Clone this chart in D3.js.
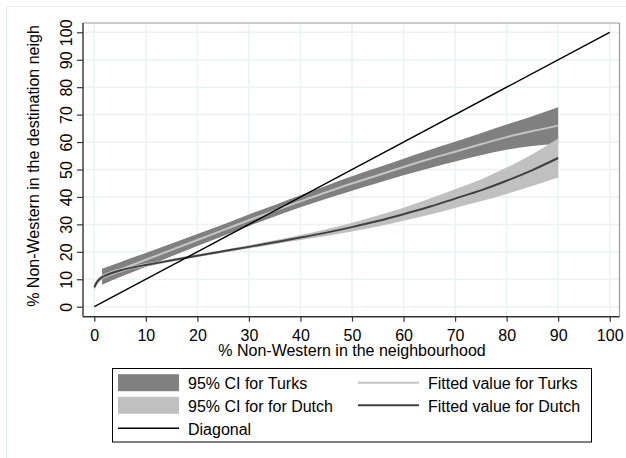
<!DOCTYPE html>
<html>
<head>
<meta charset="utf-8">
<script src="https://cdn.jsdelivr.net/npm/d3@7"></script>
<style>
  html, body { margin: 0; padding: 0; background: #ffffff; }
  svg { display: block; font-family: "Liberation Sans", Arial, sans-serif; }
</style>
</head>
<body>
<svg id="chart" width="626" height="458"></svg>
<script>
// ---------------- data ----------------
const xTicks = [0, 10, 20, 30, 40, 50, 60, 70, 80, 90, 100];
const yTicks = [0, 10, 20, 30, 40, 50, 60, 70, 80, 90, 100];

const turksX   = [1.5, 5, 10, 15, 20, 25, 30, 35, 40, 45, 50, 55, 60, 65, 70, 75, 80, 85, 90];
const turksFit = [10.9, 13.5, 17.1, 20.7, 24.3, 27.9, 31.5, 35.0, 38.4, 41.7, 44.9, 47.9, 50.9, 53.8, 56.5, 59.2, 61.8, 64.0, 66.0];
const turksLo  = [8.0, 10.8, 14.6, 18.4, 22.1, 25.8, 29.4, 32.9, 36.2, 39.3, 42.3, 45.1, 47.9, 50.5, 52.9, 55.2, 57.2, 58.6, 59.3];
const turksHi  = [13.8, 16.2, 19.6, 23.0, 26.5, 30.0, 33.6, 37.1, 40.6, 44.1, 47.5, 50.7, 53.9, 57.1, 60.1, 63.2, 66.4, 69.4, 72.7];

const dutchX   = [0, 0.3, 0.7, 1, 1.5, 2, 3, 5, 7.5, 10, 15, 20, 25, 30, 35, 40, 45, 50, 55, 60, 65, 70, 75, 80, 85, 90];
const dutchFit = [7.0, 8.3, 9.4, 10.0, 10.7, 11.2, 12.0, 13.2, 14.3, 15.2, 16.9, 18.6, 20.2, 21.8, 23.5, 25.2, 27.0, 29.0, 31.2, 33.7, 36.4, 39.4, 42.4, 45.9, 49.8, 54.2];
const dutchLo  = [5.8, 7.2, 8.4, 9.1, 9.8, 10.4, 11.2, 12.5, 13.7, 14.6, 16.4, 18.1, 19.7, 21.2, 22.8, 24.3, 25.8, 27.4, 29.2, 31.3, 33.5, 36.0, 38.4, 41.1, 44.0, 47.1];
const dutchHi  = [8.2, 9.4, 10.4, 10.9, 11.6, 12.0, 12.8, 13.9, 14.9, 15.8, 17.4, 19.1, 20.7, 22.4, 24.2, 26.1, 28.2, 30.6, 33.2, 36.1, 39.3, 42.8, 46.4, 50.7, 55.6, 61.3];

const diagX = [0, 100];
const diagY = [0, 100];

const legendItems = [
  { label: "95% CI for Turks",       kind: "area", color: "#808080", col: 0, row: 0 },
  { label: "95% CI for for Dutch",   kind: "area", color: "#c0c0c0", col: 0, row: 1 },
  { label: "Diagonal",               kind: "line", color: "#000000", col: 0, row: 2, w: 1.4 },
  { label: "Fitted value for Turks", kind: "line", color: "#c4c4c4", col: 1, row: 0, w: 2 },
  { label: "Fitted value for Dutch", kind: "line", color: "#404040", col: 1, row: 1, w: 2 }
];

// ---------------- layout ----------------
const svg = d3.select("#chart");
const plot = { left: 83, right: 619.5, top: 23, bottom: 316.7 };
const x = d3.scaleLinear().domain([0, 100]).range([94.3, 609.7]);
const y = d3.scaleLinear().domain([0, 100]).range([306.7, 32.3]);

// outer graph region frame
svg.append("rect").attr("x", 6.5).attr("y", 6.5).attr("width", 660).attr("height", 500)
  .attr("fill", "none").attr("stroke", "#e4edef").attr("stroke-width", 1);

// gridlines
const grid = svg.append("g");
grid.selectAll("line.gx").data(xTicks).join("line")
  .attr("x1", d => x(d)).attr("x2", d => x(d))
  .attr("y1", plot.top).attr("y2", plot.bottom)
  .attr("stroke", "#eaf2f3").attr("stroke-width", 1.5);
grid.selectAll("line.gy").data(yTicks).join("line")
  .attr("y1", d => y(d)).attr("y2", d => y(d))
  .attr("x1", plot.left).attr("x2", plot.right)
  .attr("stroke", "#eaf2f3").attr("stroke-width", 1.5);

// plot region border (top / right)
svg.append("line").attr("x1", plot.left).attr("x2", plot.right).attr("y1", plot.top).attr("y2", plot.top)
  .attr("stroke", "#9a9a9a").attr("stroke-width", 1.2);
svg.append("line").attr("x1", plot.right).attr("x2", plot.right).attr("y1", plot.top).attr("y2", plot.bottom)
  .attr("stroke", "#9a9a9a").attr("stroke-width", 1.2);

// data marks
const turks = turksX.map((v, i) => ({ x: v, fit: turksFit[i], lo: turksLo[i], hi: turksHi[i] }));
const dutch = dutchX.map((v, i) => ({ x: v, fit: dutchFit[i], lo: dutchLo[i], hi: dutchHi[i] }));
const diag = diagX.map((v, i) => ({ x: v, y: diagY[i] }));

const area = d3.area().x(d => x(d.x)).y0(d => y(d.lo)).y1(d => y(d.hi)).curve(d3.curveMonotoneX);
const fitLine = d3.line().x(d => x(d.x)).y(d => y(d.fit)).curve(d3.curveMonotoneX);

svg.append("path").datum(turks).attr("d", area).attr("fill", "#808080");
svg.append("path").datum(dutch).attr("d", area).attr("fill", "#c0c0c0");
svg.append("path").datum(turks).attr("d", fitLine).attr("fill", "none")
  .attr("stroke", "#c4c4c4").attr("stroke-width", 2);
svg.append("path").datum(dutch).attr("d", fitLine).attr("fill", "none")
  .attr("stroke", "#404040").attr("stroke-width", 2);
svg.append("path").datum(diag).attr("d", d3.line().x(d => x(d.x)).y(d => y(d.y)))
  .attr("fill", "none").attr("stroke", "#000").attr("stroke-width", 1.4);

// axes
const xAxis = d3.axisBottom(x).tickValues(xTicks).tickSize(5).tickPadding(4).tickSizeOuter(0);
const gx = svg.append("g").attr("transform", `translate(0,${plot.bottom})`).call(xAxis);
gx.select(".domain").attr("d", `M${plot.left},0H${plot.right}`).attr("stroke", "#333").attr("stroke-width", 1.4);
gx.selectAll(".tick line").attr("stroke", "#333").attr("stroke-width", 1.2);
gx.selectAll(".tick text").attr("font-size", 16).attr("fill", "#000")
  .attr("font-family", '"Liberation Sans", Arial, sans-serif').attr("dy", null).attr("y", 24.8);

const yAxis = d3.axisLeft(y).tickValues(yTicks).tickSize(6).tickSizeOuter(0);
const gy = svg.append("g").attr("transform", `translate(${plot.left},0)`).call(yAxis);
gy.select(".domain").attr("d", `M0,${plot.top}V${plot.bottom}`).attr("stroke", "#333").attr("stroke-width", 1.4);
gy.selectAll(".tick line").attr("stroke", "#333").attr("stroke-width", 1.2);
gy.selectAll(".tick text")
  .attr("font-size", 16).attr("fill", "#000")
  .attr("font-family", '"Liberation Sans", Arial, sans-serif')
  .attr("x", null).attr("dy", null).attr("text-anchor", "middle")
  .attr("transform", "translate(-11,0) rotate(-90)");

// axis titles
svg.append("text").attr("x", x(50)).attr("y", 356).attr("text-anchor", "middle")
  .attr("font-size", 16).attr("fill", "#000").text("% Non-Western in the neighbourhood");
svg.append("text").attr("transform", `translate(38.5,166) rotate(-90)`).attr("text-anchor", "middle")
  .attr("font-size", 16).attr("fill", "#000").text("% Non-Western in the destination neigh");

// legend
const lg = svg.append("g");
lg.append("rect").attr("x", 112.5).attr("y", 368.5).attr("width", 479).attr("height", 73.5)
  .attr("fill", "#fff").attr("stroke", "#000").attr("stroke-width", 1);
const rowCenters = [382.7, 405.3, 428.3];
const colSym = [118, 358];
const colText = [188, 428];
legendItems.forEach(it => {
  const cy = rowCenters[it.row];
  if (it.kind === "area") {
    lg.append("rect").attr("x", colSym[it.col]).attr("y", cy - 8.5).attr("width", 61).attr("height", 17)
      .attr("fill", it.color);
  } else {
    lg.append("line").attr("x1", colSym[it.col]).attr("x2", colSym[it.col] + 61)
      .attr("y1", cy).attr("y2", cy).attr("stroke", it.color).attr("stroke-width", it.w);
  }
  lg.append("text").attr("x", colText[it.col]).attr("y", cy + 6.5)
    .attr("font-size", 16).attr("fill", "#000").text(it.label);
});
</script>
</body>
</html>
